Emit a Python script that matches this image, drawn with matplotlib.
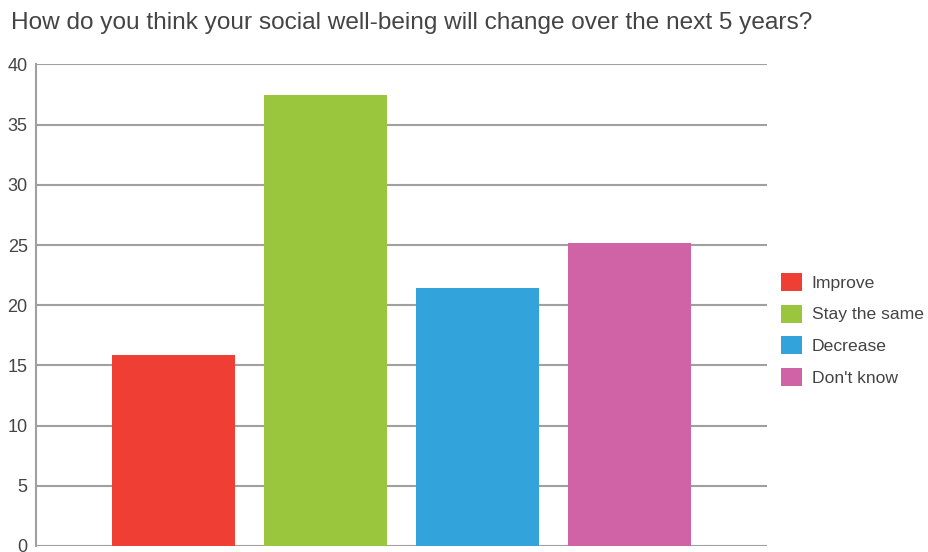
import matplotlib.pyplot as plt

plt.rcParams['font.family'] = ['Liberation Sans', 'DejaVu Sans']

# Survey answers (percent of respondents)
answers = ['Improve', 'Stay the same', 'Decrease', "Don't know"]
shares = [15.9, 37.5, 21.4, 25.2]
colors = ['#ef3e33', '#99c63d', '#33a3dc', '#d063a6']
yticks = [0, 5, 10, 15, 20, 25, 30, 35, 40]

W, H = 929, 552
fig = plt.figure(figsize=(W / 100, H / 100), dpi=100)
ax = fig.add_axes([36 / W, (H - 546) / H, 731 / W, (546 - 64.5) / H])

xs = range(len(answers))
for x, v, c, name in zip(xs, shares, colors, answers):
    ax.bar(x, v, width=0.81, color=c, label=name, zorder=2)

ax.set_xlim(-0.905, 3.905)
ax.set_ylim(0, 40)
ax.set_yticks(yticks)
ax.set_xticks([])
ax.grid(axis='y', color='#a0a0a0', linewidth=1.5, zorder=0)
ax.tick_params(axis='y', length=0, pad=6, labelsize=13, labelcolor='#444444')
for side in ('top', 'right', 'bottom'):
    ax.spines[side].set_visible(False)
ax.spines['left'].set_color('#a0a0a0')
ax.spines['left'].set_linewidth(1.5)

fig.text(11 / W, 1 - 28.5 / H, 'How do you think your social well-being will change over the next 5 years?',
         fontsize=17.6, color='#444444', va='baseline', ha='left')

leg = fig.legend(loc='upper left', bbox_to_anchor=(774 / W, 1 - 266 / H),
                 frameon=False, fontsize=12.6, handlelength=1.2, handleheight=1.2,
                 handletextpad=0.55, labelspacing=0.78, borderaxespad=0)
for t in leg.get_texts():
    t.set_color('#444444')

fig.savefig('out.png', dpi=100)
